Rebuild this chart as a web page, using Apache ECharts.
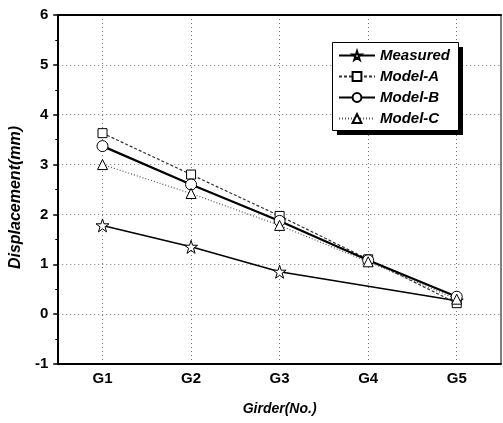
<!DOCTYPE html>
<html>
<head>
<meta charset="utf-8">
<script src="https://cdn.jsdelivr.net/npm/echarts@6/dist/echarts.min.js"></script>
<style>
    html, body { margin: 0; padding: 0; background: #fff; }
    #chart { width: 503px; height: 423px; }
</style>
</head>
<body>
<div id="chart"></div>
<script>
// 数据 ===================
var girders = ['G1', 'G2', 'G3', 'G4', 'G5'];
var measured = [1.78, 1.35, 0.85, null, 0.27];   // G4 没有实测点
var modelA = [3.63, 2.80, 1.97, 1.10, 0.22];
var modelB = [3.37, 2.60, 1.87, 1.08, 0.35];
var modelC = [3.00, 2.42, 1.78, 1.05, 0.30];
var yMin = -1;
var yMax = 6;

(function () {
    var myChart = echarts.init(document.getElementById('chart'))

    var font = 'Liberation Sans, Arial, sans-serif'
    var star = 'path://M50,2 L61,36 L97,36 L68,57 L79,92 L50,71 L21,92 L32,57 L3,36 L39,36 Z'
    var dotted = { color: '#777', width: 1, type: [1, 3] }

    // 图例框 (带黑色投影)
    var box = { x: 332, y: 42, w: 126, h: 88, off: 5 }

    function hollow(name, data, symbol, size, line) {
        return {
            name: name,
            type: 'line',
            data: data,
            connectNulls: true,
            symbol: symbol,
            symbolSize: size,
            showAllSymbol: true,
            itemStyle: { color: '#fff', borderColor: '#000', borderWidth: 1 },
            lineStyle: line
        }
    }

    var option = {
        animation: false,
        grid: {
            left: 57, right: 2, top: 15, bottom: 59,
            show: true,
            borderColor: '#000',
            borderWidth: 1
        },
        graphic: [
            {
                type: 'rect', z: 50,
                shape: { x: box.x + box.off, y: box.y + box.off, width: box.w, height: box.h },
                style: { fill: '#000' }
            },
            {
                type: 'rect', z: 51,
                shape: { x: box.x + 0.5, y: box.y + 0.5, width: box.w, height: box.h },
                style: { fill: '#fff', stroke: '#000', lineWidth: 1 }
            }
        ],
        legend: {
            orient: 'vertical',
            left: box.x,
            top: box.y,
            z: 60,
            padding: [6, 6, 6, 6],
            itemWidth: 36,
            itemHeight: 11,
            itemGap: 6,
            textStyle: {
                fontFamily: font,
                fontWeight: 'bold',
                fontStyle: 'italic',
                fontSize: 15,
                color: '#000'
            },
            data: ['Measured', 'Model-A', 'Model-B', 'Model-C']
        },
        xAxis: [
            {
                type: 'category',
                data: girders,
                boundaryGap: true,
                name: 'Girder(No.)',
                nameLocation: 'middle',
                nameGap: 38,
                nameTextStyle: {
                    fontFamily: font, fontWeight: 'bold', fontStyle: 'italic',
                    fontSize: 14, color: '#000'
                },
                axisLine: { onZero: false, lineStyle: { color: '#000', width: 2 } },
                axisTick: { alignWithLabel: true, inside: true, length: 6, lineStyle: { color: '#000', width: 2 } },
                axisLabel: {
                    margin: 7,
                    fontFamily: font, fontWeight: 'bold', fontSize: 15, color: '#000'
                },
                splitLine: { show: true, alignWithLabel: true, lineStyle: dotted }
            },
            {
                // 副刻度
                type: 'category',
                data: girders,
                position: 'bottom',
                boundaryGap: true,
                axisLine: { show: false, onZero: false },
                axisTick: { inside: true, length: 3, lineStyle: { color: '#000', width: 1 } },
                axisLabel: { show: false },
                splitLine: { show: false }
            },
            {
                // 顶边粗线
                type: 'category',
                data: girders,
                position: 'top',
                axisLine: { onZero: false, lineStyle: { color: '#000', width: 2 } },
                axisTick: { show: false },
                axisLabel: { show: false },
                splitLine: { show: false }
            }
        ],
        yAxis: {
            type: 'value',
            min: yMin,
            max: yMax,
            interval: 1,
            name: 'Displacement(mm)',
            nameLocation: 'middle',
            nameGap: 32,
            nameTextStyle: {
                fontFamily: font, fontWeight: 'bold', fontStyle: 'italic',
                fontSize: 16, color: '#000',
                padding: [0, 16, 0, 0]
            },
            axisLine: { show: true, onZero: false, lineStyle: { color: '#000', width: 2 } },
            axisTick: { show: true, length: 5, lineStyle: { color: '#000', width: 1.5 } },
            minorTick: { show: true, splitNumber: 2, length: 3, lineStyle: { color: '#000', width: 1 } },
            axisLabel: {
                margin: 10,
                fontFamily: font, fontWeight: 'bold', fontSize: 15, color: '#000'
            },
            splitLine: { show: true, lineStyle: dotted }
        },
        series: [
            hollow('Measured', measured, star, 13, { color: '#000', width: 1.5, type: 'solid' }),
            hollow('Model-A', modelA, 'rect', 9, { color: '#333', width: 1.2, type: [3, 2] }),
            hollow('Model-B', modelB, 'circle', 11, { color: '#000', width: 2.2, type: 'solid' }),
            hollow('Model-C', modelC, 'triangle', 10, { color: '#555', width: 1.2, type: [1, 2] })
        ]
    }

    myChart.setOption(option)
}());
</script>
</body>
</html>
